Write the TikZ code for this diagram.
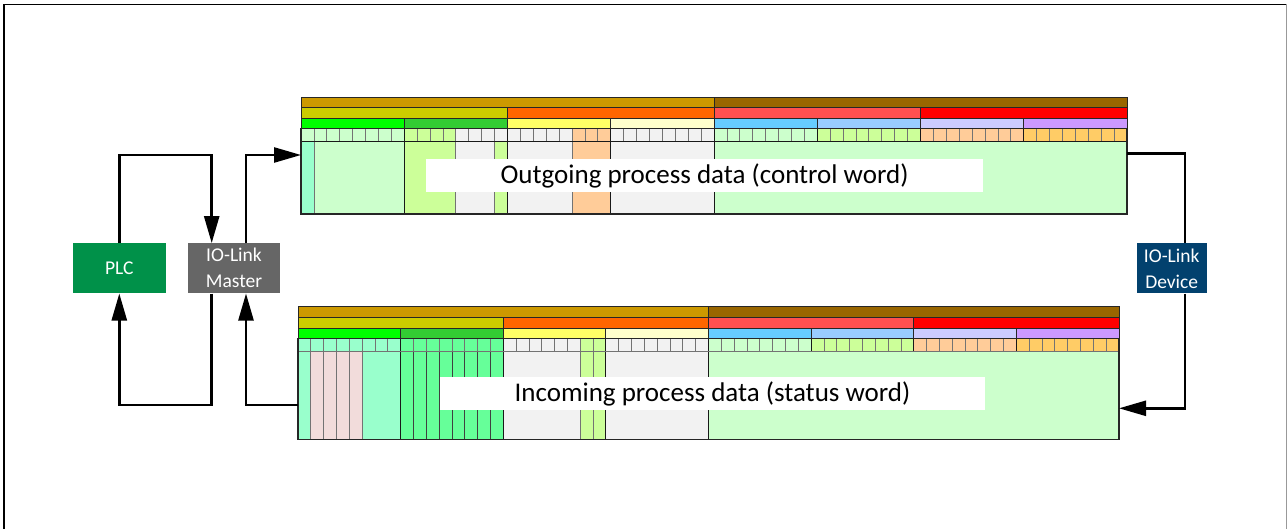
\documentclass[tikz,border=0pt]{standalone}
\usepackage{fontspec}
\setmainfont{Carlito}
\usetikzlibrary{arrows.meta}
\definecolor{cA}{HTML}{CC9900}\definecolor{cB}{HTML}{996600}
\definecolor{hA}{HTML}{CCCC00}\definecolor{hB}{HTML}{FF6600}
\definecolor{hC}{HTML}{FF5050}\definecolor{hD}{HTML}{FF0000}
\definecolor{bA}{HTML}{00FF00}\definecolor{bB}{HTML}{33CC33}
\definecolor{bC}{HTML}{FFFF66}\definecolor{bD}{HTML}{FFFFCC}
\definecolor{bE}{HTML}{66CCFF}\definecolor{bF}{HTML}{99CCFF}
\definecolor{bG}{HTML}{CCCCFF}\definecolor{bH}{HTML}{CC99FF}
\definecolor{LG}{HTML}{CCFFCC}\definecolor{YG}{HTML}{CCFF99}
\definecolor{GR}{HTML}{F2F2F2}\definecolor{PE}{HTML}{FFCC99}
\definecolor{OR}{HTML}{FFCC66}\definecolor{AQ}{HTML}{99FFCC}
\definecolor{PK}{HTML}{F2DCDB}\definecolor{MG}{HTML}{66FF99}
\definecolor{plcgreen}{HTML}{009149}\definecolor{mastergray}{HTML}{666666}
\definecolor{devblue}{HTML}{02416E}
\tikzset{
  cell/.style={draw=black!85,line width=0.9pt},
  bitline/.style={draw=black!55,line width=0.8pt},
  byteline/.style={draw=black!90,line width=1pt},
  unit/.style={rectangle,minimum height=50pt,inner sep=0pt,text=white,font=\fontsize{19.5}{26}\selectfont,align=center},
  conn/.style={line width=2.5pt,draw=black},
  arr/.style={conn,-{Triangle[length=27pt,width=15pt]}},
  caption/.style={fill=white,inner sep=0pt,minimum height=32.4pt,text height=20.5pt,text depth=3.5pt,font=\fontsize{27}{30}\selectfont}
}
\newcommand\headrows{%
  \fill[cA] (0,0) rectangle (32,10.5); \fill[cB] (32,0) rectangle (64,10.5);
  \draw[cell] (0,0) rectangle (32,10.5); \draw[cell] (32,0) rectangle (64,10.5);
  \foreach \i/\c in {0/hA,16/hB,32/hC,48/hD}{
    \draw[cell,fill=\c] (\i,10.5) rectangle ++(16,11);}
  \foreach \i/\c in {0/bA,8/bB,16/bC,24/bD,32/bE,40/bF,48/bG,56/bH}{
    \draw[cell,fill=\c] (\i,21.5) rectangle ++(8,10);}
}
\newcommand\bitrow{%
  \foreach \i in {1,...,63}{\draw[bitline] (\i,31.5) -- (\i,45);}
  \foreach \i in {8,16,...,56}{\draw[byteline] (\i,31.5) -- (\i,45);}
}
\begin{document}
\begin{tikzpicture}[x=1pt,y=-1pt]
\useasboundingbox (0,0) rectangle (1287,529);
% frame
\draw[line width=1.4pt] (4,540) -- (4,4.5) -- (1286,4.5);
\draw[line width=1pt,black!40] (1286,4.5) -- (1286,540);

% ---------- outgoing block ----------
\begin{scope}[shift={(301,97)},xscale=12.906]
  \headrows
  \fill[LG] (0,31.5) rectangle (8,45);
  \fill[YG] (8,31.5) rectangle (12,45);
  \fill[GR] (12,31.5) rectangle (21,45);
  \fill[PE] (21,31.5) rectangle (24,45);
  \fill[GR] (24,31.5) rectangle (32,45);
  \fill[LG] (32,31.5) rectangle (40,45);
  \fill[YG] (40,31.5) rectangle (48,45);
  \fill[PE] (48,31.5) rectangle (56,45);
  \fill[OR] (56,31.5) rectangle (64,45);
  \bitrow
  \fill[AQ] (0,45) rectangle (1,117);
  \fill[LG] (1,45) rectangle (8,117);
  \fill[YG] (8,45) rectangle (12,117);
  \fill[GR] (12,45) rectangle (15,117);
  \fill[YG] (15,45) rectangle (16,117);
  \fill[GR] (16,45) rectangle (21,117);
  \fill[PE] (21,45) rectangle (24,117);
  \fill[GR] (24,45) rectangle (32,117);
  \fill[LG] (32,45) rectangle (64,117);
  \foreach \i in {1,12,15,21}{\draw[bitline] (\i,45) -- (\i,117);}
  \foreach \i in {8,16,24,32}{\draw[byteline] (\i,45) -- (\i,117);}
  \draw[byteline] (0,45) -- (64,45);
  \draw[cell,line width=1.2pt] (0,31.5) rectangle (64,117);
\end{scope}

% ---------- incoming block ----------
\begin{scope}[shift={(298,306.7)},xscale=12.828]
  \headrows
  \fill[AQ] (0,31.5) rectangle (8,45);
  \fill[MG] (8,31.5) rectangle (16,45);
  \fill[GR] (16,31.5) rectangle (22,45);
  \fill[YG] (22,31.5) rectangle (24,45);
  \fill[GR] (24,31.5) rectangle (32,45);
  \fill[LG] (32,31.5) rectangle (40,45);
  \fill[YG] (40,31.5) rectangle (48,45);
  \fill[PE] (48,31.5) rectangle (56,45);
  \fill[OR] (56,31.5) rectangle (64,45);
  \bitrow
  \fill[AQ] (0,45) rectangle (1,132.6);
  \fill[PK] (1,45) rectangle (5,132.6);
  \fill[AQ] (5,45) rectangle (8,132.6);
  \fill[MG] (8,45) rectangle (16,132.6);
  \fill[GR] (16,45) rectangle (22,132.6);
  \fill[YG] (22,45) rectangle (24,132.6);
  \fill[GR] (24,45) rectangle (32,132.6);
  \fill[LG] (32,45) rectangle (64,132.6);
  \foreach \i in {1,2,3,4,5,22,23}{\draw[bitline] (\i,45) -- (\i,132.6);}
  \foreach \i in {9,...,15}{\draw[bitline,draw=black!75] (\i,45) -- (\i,132.6);}
  \foreach \i in {8,16,24,32}{\draw[byteline] (\i,45) -- (\i,132.6);}
  \draw[bitline] (0,45) -- (64,45);
  \draw[cell,line width=1.2pt] (0,31.5) rectangle (64,132.6);
\end{scope}

% captions
\node[caption,minimum width=557pt] (outcap) at (704.5,175.5) {Outgoing process data (control word)};
\node[caption,minimum width=545pt] (incap) at (712.5,393.3) {Incoming process data (status word)};

% units
\node[unit,fill=plcgreen,minimum width=92.7pt] (plc) at (119.3,268.3) {PLC};
\node[unit,fill=mastergray,minimum width=92.6pt] (master) at (234,268.3) {IO-Link\\Master};
\coordinate (outin) at (301,155);
\coordinate (outout) at (1127,153.3);
\coordinate (inin) at (1119,408.3);
\coordinate (inout) at (298,405);

\draw[arr] (plc.north) -- ++(0,-88.3) -| ([xshift=-22.3pt]master.north);
\draw[arr] ([xshift=12pt]master.north) |- (outin);
\draw[arr] ([xshift=-22.3pt]master.south) -- ++(0,111.7) -| (plc.south);
\draw[arr] (inout) -| ([xshift=12pt]master.south);

\node[unit,fill=devblue,minimum width=70pt] (device) at (1171.7,268.3) {IO-Link\\Device};
\draw[conn] (outout) -| ([xshift=13.3pt]device.north);
\draw[arr] ([xshift=13.3pt]device.south) |- (inin);
\end{tikzpicture}
\end{document}
